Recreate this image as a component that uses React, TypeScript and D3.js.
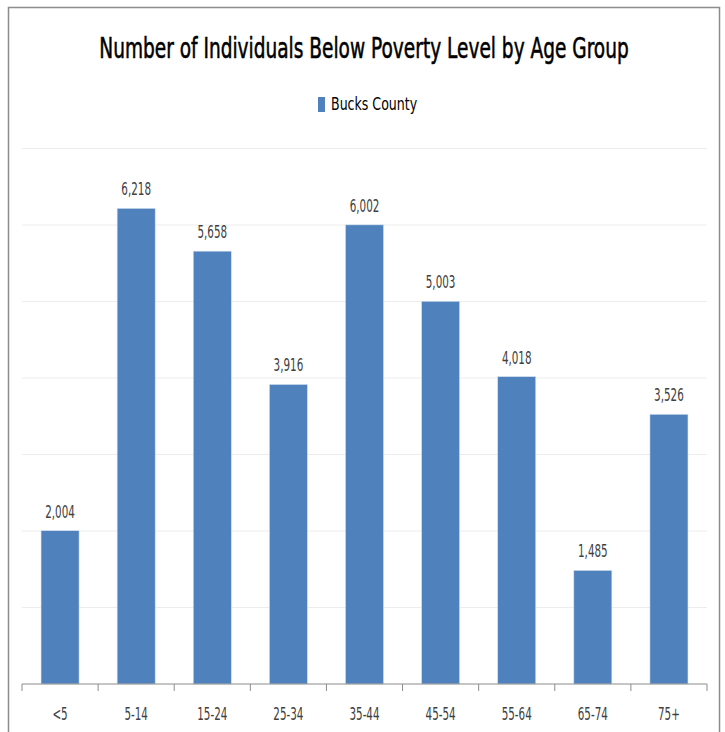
import React from "react";
import * as d3 from "d3";

const categories = ["<5", "5-14", "15-24", "25-34", "35-44", "45-54", "55-64", "65-74", "75+"];
const values = [2004, 6218, 5658, 3916, 6002, 5003, 4018, 1485, 3526];
const seriesName = "Bucks County";
const title = "Number of Individuals Below Poverty Level by Age Group";
const yTicks = [0, 1000, 2000, 3000, 4000, 5000, 6000, 7000];

const W = 725;
const H = 732;
const FONT = "'DejaVu Sans', sans-serif";
const SX = 0.61;

export default function App() {
  const left = 22, right = 707, top = 148.5, bottom = 684;
  const x = d3.scaleBand<string>().domain(categories).range([left, right]).paddingInner(0.5).paddingOuter(0.25);
  const y = d3.scaleLinear().domain([0, 7000]).range([bottom, top]);
  const step = x.step();
  const fmt = d3.format(",");
  const color = "#4f81bd";

  return (
    <svg width={W} height={H} style={{ position: "absolute", left: 0, top: 0, background: "#fff" }}>
      <rect x={8.5} y={7.5} width={711} height={740} fill="#fff" stroke="#8c8c8c" strokeWidth={1.5} />
      <text transform={`translate(364,58) scale(0.64,1)`} textAnchor="middle" fontFamily={FONT} fontSize={29} fill="#000" stroke="#000" strokeWidth={0.6}>{title}</text>
      <rect x={318} y={97} width={7} height={15} fill={color} />
      <text transform={`translate(331,110) scale(0.70,1)`} fontFamily={FONT} fontSize={18} fill="#000">{seriesName}</text>
      {yTicks.slice(1).map((t) => (
        <line key={t} x1={left} x2={right} y1={y(t)} y2={y(t)} stroke="#ececec" strokeWidth={1} />
      ))}
      {values.map((v, i) => {
        const cx = x(categories[i])! + x.bandwidth() / 2;
        return (
          <g key={categories[i]}>
            <rect x={x(categories[i])!} y={y(v)} width={x.bandwidth()} height={bottom - y(v)} fill={color} stroke="#d6e2f0" strokeWidth={0.6} />
            <text transform={`translate(${cx},${y(v) - 13}) scale(${SX},1)`} textAnchor="middle" fontFamily={FONT} fontSize={17} fill="#404040">{fmt(v)}</text>
            <text transform={`translate(${cx},${720}) scale(${SX},1)`} textAnchor="middle" fontFamily={FONT} fontSize={17} fill="#404040">{categories[i]}</text>
          </g>
        );
      })}
      <line x1={left} x2={right} y1={bottom} y2={bottom} stroke="#8c8c8c" strokeWidth={1} />
      {d3.range(categories.length + 1).map((i) => (
        <line key={i} x1={left + i * step} x2={left + i * step} y1={bottom} y2={bottom + 7} stroke="#8c8c8c" strokeWidth={1} />
      ))}
    </svg>
  );
}
